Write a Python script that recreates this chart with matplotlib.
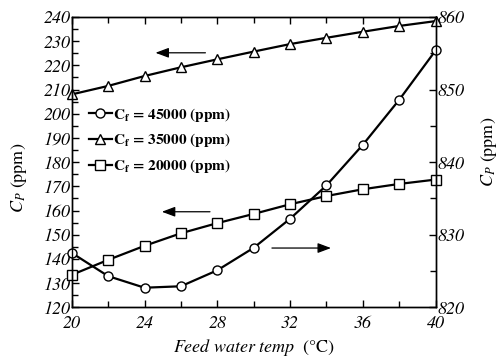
import numpy as np
import matplotlib
matplotlib.use("Agg")
import matplotlib.pyplot as plt
from matplotlib.ticker import MultipleLocator

# STIXGeneral ships with matplotlib and has a real italic face (Times-like)
plt.rcParams["font.family"] = "STIXGeneral"
plt.rcParams["mathtext.fontset"] = "stix"

# feed water temperature (C)
temp = [20, 22, 24, 26, 28, 30, 32, 34, 36, 38, 40]

# Cf = 45000 ppm, plotted on the right axis
cp_45000 = [827.5, 824.3, 822.7, 822.9, 825.1, 828.2, 832.2, 836.8, 842.4, 848.6, 855.4]
# Cf = 35000 ppm and Cf = 20000 ppm, left axis
cp_35000 = [208.0, 211.5, 215.6, 219.2, 222.5, 225.7, 228.8, 231.4, 233.9, 236.3, 238.3]
cp_20000 = [133.4, 139.6, 145.4, 150.6, 154.8, 158.6, 162.6, 166.0, 168.8, 171.0, 172.8]

labels = [r"C$_\mathbf{f}$ = 45000 (ppm)",
          r"C$_\mathbf{f}$ = 35000 (ppm)",
          r"C$_\mathbf{f}$ = 20000 (ppm)"]

fig = plt.figure(figsize=(4.99, 3.63), dpi=100)
ax = fig.add_axes([0.1437, 0.1534, 0.7294, 0.7998])
ax2 = ax.twinx()

style = dict(color="black", lw=1.6, markersize=6.5, markerfacecolor="white",
             markeredgecolor="black", markeredgewidth=1.0, clip_on=False)
h2, = ax.plot(temp, cp_35000, marker="^", **style)
h3, = ax.plot(temp, cp_20000, marker="s", **style)
h1, = ax2.plot(temp, cp_45000, marker="o", **style)

ax.set_xlim(20, 40)
ax.set_ylim(120, 240)
ax2.set_ylim(820, 860)

ax.xaxis.set_major_locator(MultipleLocator(4))
ax.xaxis.set_minor_locator(MultipleLocator(2))
ax.yaxis.set_major_locator(MultipleLocator(10))
ax.yaxis.set_minor_locator(MultipleLocator(5))
ax2.yaxis.set_major_locator(MultipleLocator(10))
ax2.yaxis.set_minor_locator(MultipleLocator(5))

ax.tick_params(axis="both", which="both", direction="in", top=True, labelsize=13)
ax.tick_params(axis="x", pad=6)
ax.tick_params(axis="y", pad=1)
ax.tick_params(which="major", length=5, width=1)
ax.tick_params(which="minor", length=4, width=1)
ax2.tick_params(axis="y", which="both", direction="in", labelsize=13, pad=1)
ax2.tick_params(which="major", length=5, width=1)
ax2.tick_params(which="minor", length=4, width=1)

# italic tick numbers
for lbl in ax.get_xticklabels() + ax.get_yticklabels() + ax2.get_yticklabels():
    lbl.set_fontstyle("italic")

for a in (ax, ax2):
    for s in a.spines.values():
        s.set_linewidth(1.0)

ax.set_xlabel(r"$\mathit{Feed\ water\ temp}$  (°C)", fontsize=13, labelpad=3)
ax.set_ylabel(r"$C_P$ (ppm)", fontsize=13)
ax.yaxis.set_label_coords(-0.118, 0.445)
ax2.set_ylabel(r"$C_P$ (ppm)", fontsize=13, rotation=90)
ax2.yaxis.set_label_coords(1.118, 0.535)

arrow = dict(arrowstyle="-|>,head_length=0.8,head_width=0.3", color="black", lw=0.9)
ax.annotate("", xy=(24.45, 225.2), xytext=(27.5, 225.2), arrowprops=arrow)
ax.annotate("", xy=(24.8, 159.5), xytext=(27.75, 159.5), arrowprops=arrow)
ax.annotate("", xy=(34.4, 144.5), xytext=(30.85, 144.5), arrowprops=arrow)

ax2.legend([h1, h2, h3], labels, loc="upper left", bbox_to_anchor=(0.03, 0.715),
           frameon=False, handlelength=1.5, handletextpad=0.1, labelspacing=0.5,
           borderaxespad=0, prop={"weight": "bold", "size": 11})

fig.savefig("out.png", dpi=100)
